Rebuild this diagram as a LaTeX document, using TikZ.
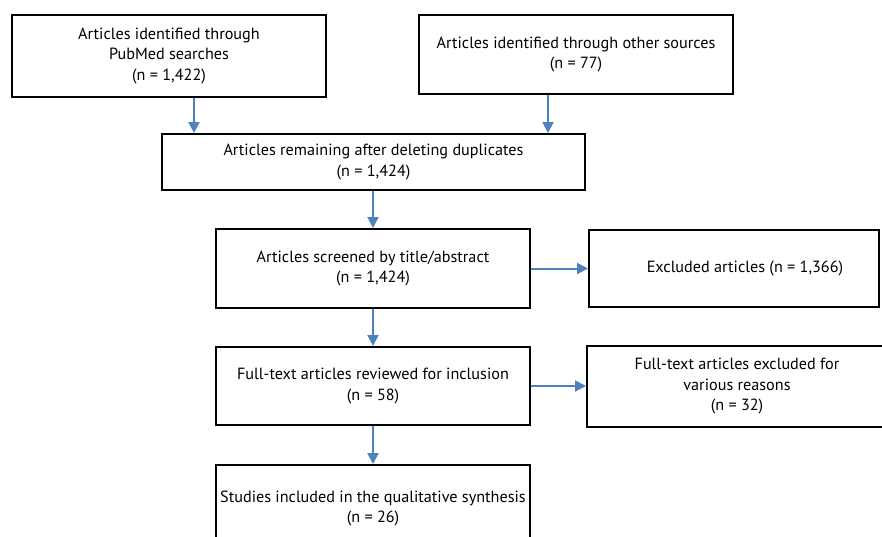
\documentclass[tikz,border=0pt]{standalone}
\usepackage{fontspec}
\setmainfont{PT Sans}
\usetikzlibrary{arrows.meta}
\definecolor{arrblue}{RGB}{79,129,189}
\begin{document}
\begin{tikzpicture}[x=1pt,y=-1pt,
  box/.style={draw=black,line width=2pt,fill=white,inner sep=0pt,align=center,
    font=\fontsize{16.2}{20.5}\selectfont},
  arr/.style={draw=arrblue,line width=2pt,-{Triangle[length=11pt,width=11pt]}}]
\useasboundingbox[fill=white] (0,0) rectangle (882,536);
\node[box,minimum width=314pt,minimum height=82pt] (b1) at (169,56)
  {Articles identified through\\PubMed searches\\(n = 1,422)};
\node[box,minimum width=314pt,minimum height=79pt] (b2) at (576,54.5)
  {Articles identified through other sources\\(n = 77)};
\node[box,minimum width=423pt,minimum height=56pt] (b3) at (373.5,162)
  {Articles remaining after deleting duplicates\\(n = 1,424)};
\node[box,minimum width=314pt,minimum height=79pt] (b4) at (373,268.5)
  {Articles screened by title/abstract\\(n = 1,424)};
\node[box,minimum width=290pt,minimum height=77pt] (e1) at (734,268.5)
  {\hspace*{22pt}Excluded articles (n = 1,366)};
\node[box,minimum width=314pt,minimum height=78pt] (b5) at (373,386)
  {Full-text articles reviewed for inclusion\\(n = 58)};
\node[box,minimum width=300pt,minimum height=81pt] (e2) at (737,386.5)
  {Full-text articles excluded for\\various reasons\\(n = 32)};
\node[box,minimum width=314pt,minimum height=87pt] (b6) at (373,508.5)
  {Studies included in the qualitative synthesis\\(n = 26)};
\draw[arr] (b1.south -| 194,0) -- (b3.north -| 194,0);
\draw[arr] (b2.south -| 548,0) -- (b3.north -| 548,0);
\draw[arr] (b3.south -| b4.north) -- (b4.north);
\draw[arr] (b4.east) -- (e1.west |- b4.east);
\draw[arr] (b4.south) -- (b5.north);
\draw[arr] (b5.east) -- (e2.west |- b5.east);
\draw[arr] (b5.south) -- (b6.north);
\end{tikzpicture}
\end{document}
